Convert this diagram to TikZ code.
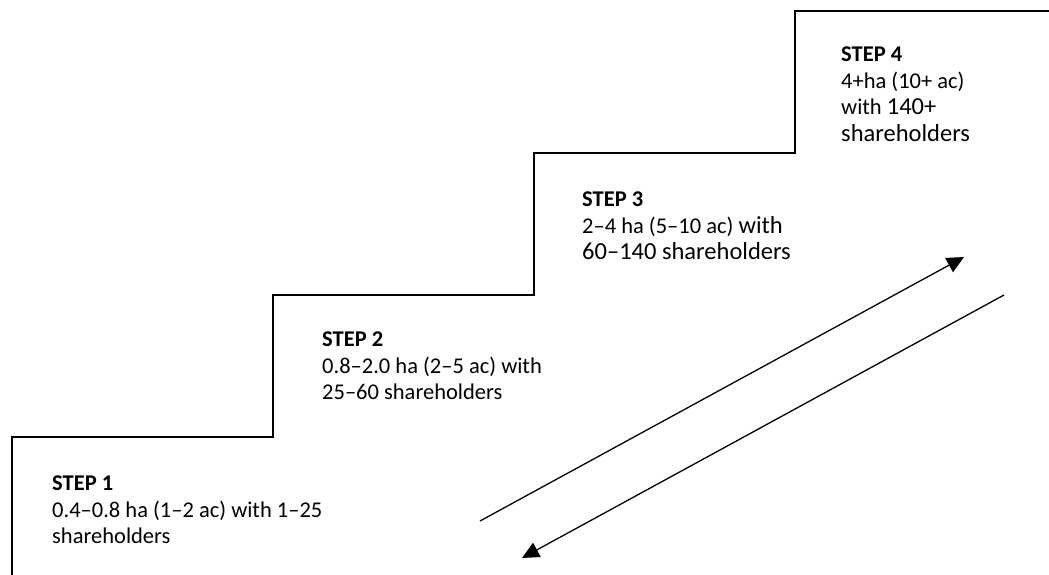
\documentclass[tikz,border=0pt]{standalone}
\usepackage{fontspec}
\setmainfont{Carlito}
\usetikzlibrary{arrows.meta}
\tikzset{
  stair/.style={line width=1.6pt, line join=miter},
  flow/.style={line width=1.3pt, -{Triangle[length=17pt,width=16pt]}},
  steptext/.style={anchor=north west, inner sep=0pt, align=left,
    font=\fontsize{22.5}{26.5}\selectfont}
}
\newcommand{\bigtxt}[1]{{\fontsize{24.5}{26.5}\selectfont #1}}
\begin{document}
\begin{tikzpicture}[x=1pt,y=-1pt]
\useasboundingbox (0,0) rectangle (1049,575);
\draw[stair] (12,575) -- (12,437) -- (273,437) -- (273,295) -- (534,295)
  -- (534,153) -- (795,153) -- (795,11) -- (1049,11);
\node[steptext] (s1) at (52,476) {\textbf{STEP 1}\\0.4–0.8 ha (1–2 ac) with 1–25\\shareholders};
\node[steptext] (s2) at (322,332) {\textbf{STEP 2}\\0.8–2.0 ha (2–5 ac) with\\25–60 shareholders};
\node[steptext] (s3) at (582,192) {\textbf{STEP 3}\\2–4 ha (5–10 ac) \bigtxt{with}\\\bigtxt{60–140 shareholders}};
\node[steptext] (s4) at (841,47) {\textbf{STEP 4}\\4+ha (10+ ac)\\with \bigtxt{140+}\\\bigtxt{shareholders}};
\coordinate (a1s) at (480,521);
\coordinate (a1e) at (964,257);
\coordinate (a2s) at (1004,295);
\coordinate (a2e) at (522,558);
\draw[flow] (a1s) -- (a1e);
\draw[flow] (a2s) -- (a2e);
\end{tikzpicture}
\end{document}
